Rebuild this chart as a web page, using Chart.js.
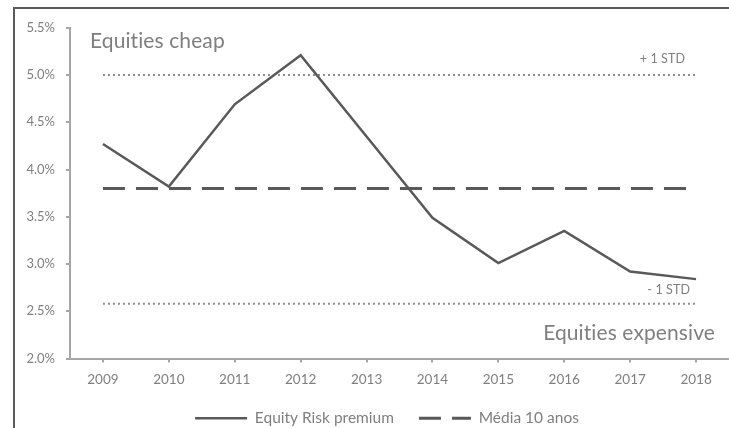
<!DOCTYPE html>
<html>
<head>
<meta charset="utf-8">
<script src="https://cdn.jsdelivr.net/npm/chart.js@4"></script>
<style>
  html, body { margin: 0; padding: 0; background: #fff; overflow: hidden; }
  body { width: 729px; height: 428px; position: relative; }
  #frame {
    position: absolute; left: 13px; top: 7px; width: 716px; height: 421px;
    border-top: 2px solid #5a5a5a; border-left: 2px solid #5a5a5a;
    box-sizing: border-box; overflow: hidden;
  }
  #wrap { position: absolute; left: 0; top: 0; width: 714px; height: 427px; }
</style>
</head>
<body>
<div id="frame"><div id="wrap"><canvas id="erpChart"></canvas></div></div>
<script>
// Valores
const years = ['2009', '2010', '2011', '2012', '2013', '2014', '2015', '2016', '2017', '2018'];
const riskPremium = [4.27, 3.82, 4.69, 5.21, 4.35, 3.49, 3.01, 3.35, 2.92, 2.84];
const tenYearAvg = [3.8, 3.8, 3.8, 3.8, 3.8, 3.8, 3.8, 3.8, 3.8, 3.8];
const plusOneStd = [5.0, 5.0, 5.0, 5.0, 5.0, 5.0, 5.0, 5.0, 5.0, 5.0];
const minusOneStd = [2.58, 2.58, 2.58, 2.58, 2.58, 2.58, 2.58, 2.58, 2.58, 2.58];
const yMin = 2.0, yMax = 5.5, yStep = 0.5;

const FONT = "Lato, 'Noto Sans', sans-serif";
const TEXT_GRAY = '#7f7f7f';
const LINE_GRAY = '#595959';
const AXIS_GRAY = '#a6a6a6';

// Textos das faixas (cheap / expensive / ±1 STD)
const notesPlugin = {
    id: 'notes',
    afterLayout(chart) {
        // legenda um pouco deslocada para a direita, como no original
        chart.legend.left += 30;
    },
    afterDraw(chart) {
        const { ctx, chartArea, scales } = chart;
        const y = scales.y;
        ctx.save();
        ctx.fillStyle = TEXT_GRAY;
        ctx.textBaseline = 'middle';
        // sem ligaduras "ti"
        ctx.textRendering = 'optimizeSpeed';
        ctx.letterSpacing = '0.1px';

        ctx.font = `21px ${FONT}`;
        ctx.textAlign = 'left';
        ctx.fillText('Equities cheap', chartArea.left + 20, chartArea.top + 13);
        ctx.textAlign = 'right';
        ctx.fillText('Equities expensive', chartArea.right - 14, chartArea.bottom - 25);

        ctx.font = `12.5px ${FONT}`;
        ctx.fillText('+ 1 STD', chartArea.right - 44, y.getPixelForValue(plusOneStd[0]) - 16);
        ctx.fillText('- 1 STD', chartArea.right - 39, y.getPixelForValue(minusOneStd[0]) - 14);
        ctx.restore();
    }
};

const ctx = document.getElementById('erpChart').getContext('2d');
Chart.defaults.font.family = FONT;
Chart.defaults.color = TEXT_GRAY;

new Chart(ctx, {
    type: 'line',
    data: {
        labels: years,
        datasets: [
            {
                label: 'Equity Risk premium',
                data: riskPremium,
                borderColor: LINE_GRAY,
                borderWidth: 2.5,
                pointRadius: 0,
                tension: 0
            },
            {
                label: 'Média 10 anos',
                data: tenYearAvg,
                borderColor: LINE_GRAY,
                borderWidth: 3,
                borderDash: [22, 11],
                pointRadius: 0
            },
            {
                label: '+1 STD',
                data: plusOneStd,
                borderColor: '#8c8c8c',
                borderWidth: 2,
                borderDash: [2, 3],
                pointRadius: 0
            },
            {
                label: '-1 STD',
                data: minusOneStd,
                borderColor: '#8c8c8c',
                borderWidth: 2,
                borderDash: [2, 3],
                pointRadius: 0
            }
        ]
    },
    options: {
        responsive: true,
        maintainAspectRatio: false,
        animation: false,
        layout: { padding: { top: 16, right: 0, bottom: 0, left: 0 } },
        plugins: {
            tooltip: { enabled: false },
            legend: {
                position: 'bottom',
                labels: {
                    usePointStyle: true,
                    pointStyle: 'line',
                    pointStyleWidth: 52,
                    padding: 25,
                    color: TEXT_GRAY,
                    font: { size: 15.5 },
                    filter: (item) => item.datasetIndex < 2,
                    generateLabels: (chart) => {
                        const items = Chart.defaults.plugins.legend.labels.generateLabels(chart);
                        items.forEach((it) => {
                            const ds = chart.data.datasets[it.datasetIndex];
                            it.lineDash = ds.borderDash || [];
                            it.lineWidth = ds.borderWidth;
                            it.strokeStyle = ds.borderColor;
                        });
                        return items;
                    }
                }
            }
        },
        scales: {
            x: {
                offset: true,
                grid: { drawOnChartArea: false, tickLength: 4, color: AXIS_GRAY, lineWidth: 2 },
                border: { color: AXIS_GRAY, width: 2 },
                ticks: { font: { size: 13.5 }, padding: 9, maxRotation: 0 },
                afterFit: (scale) => { scale.height = 27; }
            },
            y: {
                min: yMin,
                max: yMax,
                grid: { drawOnChartArea: false, tickLength: 4, color: AXIS_GRAY, lineWidth: 2 },
                border: { color: AXIS_GRAY, width: 2 },
                ticks: {
                    stepSize: yStep,
                    padding: 11,
                    font: { size: 13 },
                    callback: (value) => value.toFixed(1) + '%'
                },
                afterFit: (scale) => { scale.width = 55; }
            }
        }
    },
    plugins: [notesPlugin]
});
</script>
</body>
</html>
